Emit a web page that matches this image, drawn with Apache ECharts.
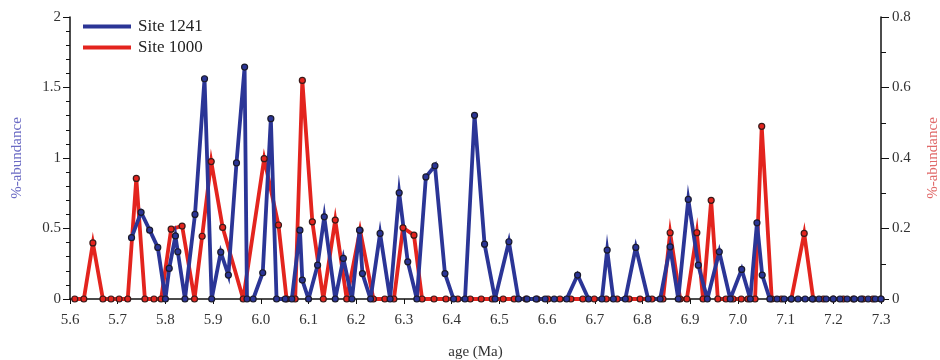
<!DOCTYPE html>
<html>
<head>
<meta charset="utf-8">
<script src="https://cdn.jsdelivr.net/npm/echarts@6/dist/echarts.min.js"></script>
<style>html,body{margin:0;padding:0;background:#fff}#c{width:940px;height:360px}</style>
</head>
<body>
<div id="c"></div>
<script>
// Site 1241 (left axis)
var ages1241 = [5.729,5.749,5.767,5.784,5.800,5.808,5.821,5.826,5.841,5.862,5.882,5.897,5.916,5.932,5.949,5.966,5.971,5.984,6.004,6.021,6.033,6.051,6.065,6.082,6.087,6.100,6.119,6.133,6.156,6.173,6.191,6.207,6.213,6.230,6.250,6.271,6.290,6.308,6.327,6.346,6.365,6.386,6.404,6.428,6.448,6.469,6.491,6.520,6.540,6.558,6.577,6.596,6.615,6.641,6.664,6.687,6.715,6.726,6.739,6.764,6.786,6.812,6.837,6.858,6.875,6.896,6.917,6.936,6.961,6.984,7.008,7.026,7.040,7.051,7.067,7.082,7.097,7.112,7.126,7.141,7.156,7.170,7.185,7.200,7.214,7.229,7.244,7.258,7.273,7.288,7.300];
var vals1241 = [0.435,0.615,0.488,0.366,0,0.217,0.447,0.335,0,0.60,1.562,0,0.332,0.17,0.965,1.645,0,0,0.186,1.279,0,0,0,0.488,0.134,0,0.24,0.583,0,0.288,0,0.488,0.18,0,0.465,0,0.753,0.264,0,0.866,0.945,0.18,0,0,1.303,0.389,0,0.406,0,0,0,0,0,0,0.17,0,0,0.347,0,0,0.366,0,0,0.37,0,0.706,0.24,0,0.335,0,0.21,0,0.54,0.17,0,0,0,0,0,0,0,0,0,0,0,0,0,0,0,0,0];
// Site 1000 (right axis)
var ages1000 = [5.610,5.629,5.648,5.669,5.686,5.703,5.721,5.739,5.757,5.776,5.791,5.812,5.835,5.861,5.877,5.896,5.920,5.963,6.007,6.037,6.054,6.072,6.087,6.108,6.131,6.156,6.180,6.208,6.236,6.260,6.279,6.298,6.321,6.338,6.363,6.388,6.413,6.439,6.462,6.485,6.508,6.531,6.556,6.579,6.602,6.627,6.650,6.675,6.699,6.724,6.747,6.772,6.795,6.820,6.843,6.858,6.879,6.893,6.914,6.927,6.944,6.958,6.975,6.990,7.007,7.021,7.036,7.050,7.071,7.091,7.112,7.139,7.158,7.179,7.200,7.221,7.242,7.262,7.283,7.300];
var vals1000 = [0,0,0.159,0,0,0,0,0.342,0,0,0,0.198,0.207,0,0.178,0.39,0.203,0,0.398,0.21,0,0,0.62,0.219,0,0.224,0,0.195,0,0,0,0.202,0.181,0,0,0,0,0,0,0,0,0,0,0,0,0,0,0,0,0,0,0,0,0,0,0.188,0,0,0.188,0,0.28,0,0,0,0,0,0,0.49,0,0,0,0.186,0,0,0,0,0,0,0,0];

var xTicks = {min:5.6, max:7.3, interval:0.1};
var leftTicks = {min:0, max:2, interval:0.5};
var rightTicks = {min:0, max:0.8, interval:0.2};

function zip(a,b){return a.map(function(v,i){return [v,b[i]];});}

var FONT = '"Liberation Serif", "DejaVu Serif", serif';
var BLUE = '#2b3596', RED = '#e3241e';

var chart = echarts.init(document.getElementById('c'), null, {renderer:'canvas'});
chart.setOption({
  animation:false,
  backgroundColor:'#fff',
  textStyle:{fontFamily:FONT},
  grid:{left:70, right:59, top:17, bottom:61, containLabel:false, outerBoundsMode:'none'},
  legend:{
    left:78, top:13, orient:'vertical', itemWidth:48, itemHeight:4, itemGap:4, icon:'rect',
    itemStyle:{borderWidth:0},
    textStyle:{fontFamily:FONT, fontSize:17, color:'#222', padding:[0,0,0,2]},
    data:['Site 1241','Site 1000']
  },
  xAxis:{
    type:'value', min:xTicks.min, max:xTicks.max, interval:xTicks.interval,
    name:'age (Ma)', nameLocation:'middle', nameGap:46,
    nameTextStyle:{fontFamily:FONT, fontSize:15, color:'#333'},
    axisLine:{lineStyle:{color:'#111', width:1.5}},
    axisTick:{show:true, length:5, lineStyle:{color:'#111'}},
    axisLabel:{fontFamily:FONT, fontSize:15, color:'#333', margin:14, formatter:function(v){return v.toFixed(1);}},
    splitLine:{show:false}
  },
  yAxis:[{
    type:'value', position:'left', min:leftTicks.min, max:leftTicks.max, interval:leftTicks.interval,
    name:'%-abundance', nameLocation:'middle', nameGap:45,
    nameTextStyle:{fontFamily:FONT, fontSize:15, color:'#6b6bc4'},
    axisLine:{show:true, lineStyle:{color:'#111', width:1.5}},
    axisTick:{show:true, length:7, lineStyle:{color:'#111'}},
    minorTick:{show:true, splitNumber:5, length:4, lineStyle:{color:'#111'}},
    axisLabel:{fontFamily:FONT, fontSize:15, color:'#333', margin:9},
    splitLine:{show:false}
  },{
    type:'value', position:'right', min:rightTicks.min, max:rightTicks.max, interval:rightTicks.interval,
    name:'%-abundance', nameLocation:'middle', nameGap:45,
    nameTextStyle:{fontFamily:FONT, fontSize:15, color:'#e06a6a'},
    axisLine:{show:true, lineStyle:{color:'#111', width:1.5}},
    axisTick:{show:true, length:8, lineStyle:{color:'#111'}},
    minorTick:{show:true, splitNumber:2, length:5, lineStyle:{color:'#111'}},
    axisLabel:{fontFamily:FONT, fontSize:15, color:'#333', margin:11},
    splitLine:{show:false}
  }],
  series:[{
    name:'Site 1000', type:'line', yAxisIndex:1, data:zip(ages1000, vals1000),
    symbol:'circle', symbolSize:6, showAllSymbol:true,
    lineStyle:{color:RED, width:3.8, join:'miter', miterLimit:10},
    itemStyle:{color:RED, borderColor:'#3a1a1a', borderWidth:1.2}
  },{
    name:'Site 1241', type:'line', yAxisIndex:0, data:zip(ages1241, vals1241),
    symbol:'circle', symbolSize:6, showAllSymbol:true,
    lineStyle:{color:BLUE, width:3.8, join:'miter', miterLimit:10},
    itemStyle:{color:BLUE, borderColor:'#1a1a2a', borderWidth:1.2}
  }]
});
</script>
</body>
</html>
